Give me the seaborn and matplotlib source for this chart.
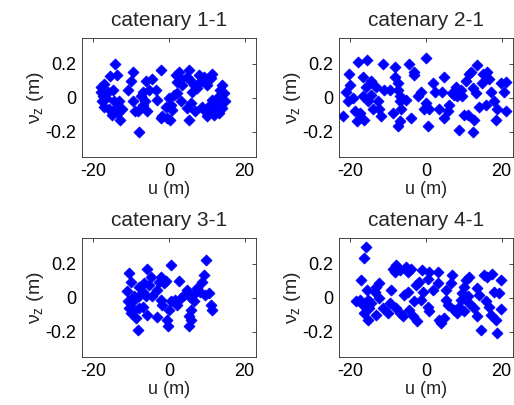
import matplotlib
matplotlib.use("Agg")
from matplotlib import pyplot as plt
import numpy as np
import pandas as pd
import seaborn as sns

sns.set_style("white")
plt.rcParams['font.family'] = ['Liberation Sans', 'DejaVu Sans']
plt.rcParams['mathtext.fontset'] = 'custom'
plt.rcParams['mathtext.rm'] = 'Liberation Sans'
plt.rcParams['mathtext.it'] = 'Liberation Sans'

titles = ['catenary 1-1', 'catenary 2-1', 'catenary 3-1', 'catenary 4-1']

# catenary 1-1
u1 = [-14.2, -15.5, -13.8, -17.1, -18, -17.5, -17.8, -16.7, -14.9, -17.1, -14.5, -13.2, -14,
      -15.2, -12.9, -12.3, -16.2, -9.6, -10.1, -10.8, -9.4, -8.9, -7.9, -6.1, -4.4, -6.8, -5.3,
      -3.5, -7.5, -6.4, -3.1, -8.3, -5.7, -7, -2.2, -1.8, -0.4, 0.3, -0.9, 0.4, 0.9, 0, 1.3,
      2.2, 2.2, 2.6, 3.1, 3.5, 5.3, 4.8, 5.7, 6.6, 6.1, 7.9, 8.3, 7.5, 4.8, 5.7, 5.3, 7, 11.4,
      11, 10, 8.8, 9.6, 10, 11.4, 12.3, 12.6, 11.4, 13.1, 14, 14.5, 14.9, 14, 10.8, 11.8, 13.6,
      -18, -15.8, -13.6, -2.2, 3.1, 1.8, 9.2, 12.6, 13.3]
v1 = [0.20, 0.127, 0.13, 0.08, 0.035, 0.006, -0.023, -0.004, 0.045, -0.053, -0.023, -0.023, -0.06,
      -0.10, -0.13, -0.07, 0.035, 0.15, 0.10, 0.045, -0.02, -0.08, -0.2, 0.10, 0.107, 0.035, 0.045,
      0.045, 0.006, -0.023, -0.014, -0.08, -0.08, -0.043, 0.16, -0.11, -0.12, -0.13, -0.053, -0.043,
      -0.072, -0.004, 0.016, 0.025, 0.094, 0.15, 0.11, 0.074, 0.16, 0.12, 0.10, 0.074, 0.035, 0.13,
      0.094, 0.055, -0.06, -0.033, -0.13, -0.08, 0.14, 0.113, 0.074, -0.053, -0.08, -0.11, -0.08,
      -0.06, -0.023, -0.014, 0.006, 0.074, 0.025, -0.023, -0.06, -0.043, -0.10, 0.045,
      0.064, -0.07, -0.09, -0.12, -0.023, 0.13, 0.12, -0.053, -0.09]

# catenary 2-1
u2 = [-21.9, -21.2, -20.4, -20, -20.6, -19.3, -18.7, -18.2, -17.9, -17.5, -16.7, -16.7, -16.3,
      -15.8, -15.6, -15.4, -14.5, -14.5, -14, -13.3, -12.7, -12.3, -11.8, -11.4, -11, -9.6, -8.8,
      -8.3, -8.1, -7.5, -7.5, -7, -6.8, -6.6, -7, -7.5, -5.3, -4.6, -3.9, -3.3, -3.1, -2.2, -1.3,
      -0.4, 0, 0, 0.4, 0.9, 1.9, 2.5, 3.5, 4.2, 4.8, 4.8, 5.7, 6.1, 6.8, 7.5, 7.9, 8.3, 8.8, 9.2,
      9.6, 10, 10.5, 11.4, 11.8, 11.2, 12.3, 12.5, 12.7, 13.2, 13.6, 14, 14.9, 15, 15.8, 16.2,
      16.7, 17.1, 17.9, 18.4, 18.9, 19.7, 20.6, 21.1, 21.1]
v2 = [-0.11, 0.035, 0.14, 0.074, -0.023, -0.004, -0.08, -0.14, 0.21, -0.09, 0.12, 0.006, -0.13,
      0.064, 0.22, -0.023, 0.10, 0.016, -0.07, 0.064, -0.023, -0.07, -0.11, 0.20, 0.045, 0.045,
      -0.09, 0.18, 0.12, 0.084, 0.045, 0.006, -0.023, -0.07, -0.14, -0.17, -0.014, 0.20, -0.12,
      0.13, 0.15, 0.006, 0.035, -0.07, 0.23, -0.03, -0.17, -0.07, 0.084, 0.035, -0.07, 0.035, 0.12,
      -0.12, -0.08, -0.043, 0.025, 0.016, 0.064, 0.006, -0.19, 0.045, 0.006, -0.10, 0.10, 0.14,
      0.15, -0.10, 0.055, -0.20, -0.13, 0.025, 0.19, -0.053, 0.084, 0.14, -0.043, 0.15, 0.11,
      0.035, -0.023, -0.13, -0.07, 0.084, 0.035, 0.094, -0.08]

# catenary 3-1
u3 = [-10.5, -11.1, -10.1, -5.7, 0.4, 9.9, 9.2, 8.8, 2.6, -2.2, -2.6, -0.9, -1.3, -7.9, -6.6,
      -5.3, -7, -6.1, -4.4, -9.2, -9.6, -10.5, -9.2, -7.9, -7, -10.1, -8.8, -5.7, -8.3, -3.1,
      -2.2, -1.8, 0.0, -0.4, -0.3, 0.4, 1.7, 2.2, 3.1, 3.9, 4.8, 5.3, 5.7, 5.3, 5.7, 5.3, 6.6,
      7, 7.5, 8.3, 9.6, 10.5, 11, 11.4, -4.8, -3.1, -10.8, -7.9]
v3 = [0.146, 0.039, 0.094, 0.17, 0.19, 0.22, 0.13, 0.094, 0.098, 0.12, 0.094, 0.10, 0.084, 0.064,
      0.084, 0.074, 0.035, 0.006, 0.006, 0.006, -0.023, -0.063, -0.072, -0.063, -0.053, -0.09,
      -0.12, -0.10, -0.19, -0.115, -0.014, -0.043, -0.072, -0.13, -0.17, -0.023, -0.014, -0.043,
      -0.004, 0.016, 0.045, 0.006, -0.072, -0.107, -0.13, -0.17, -0.023, 0.025, 0.055, 0.035,
      0.016, 0.025, -0.043, -0.072, 0.12, 0.045, -0.023, 0.006]

# catenary 4-1
u4 = [-15.8, -16.3, -17.1, -18.4, -17.5, -16.7, -15.6, -15.4, -15.1, -16.3, -15.4, -14.5, -13.6,
      -13.2, -12.3, -13.2, -12.3, -11.4, -10.1, -9.2, -8.8, -8.3, -7.9, -7, -5.3, -4.8, -3.9,
      -9.6, -7.9, -7, -6.1, -5.7, -4.8, -4.4, -3.5, -2.5, -3.1, -2.6, -1.8, -1.3, -0.9, -1,
      0.4, 0.9, 0.9, 0.4, 1.9, 3.1, 3.1, 3.5, 3.9, 4.8, 5.3, 5.4, 5.7, 6.6, 7, 7.5, 8.3, 8.8,
      9.2, 9.6, 10, 10.5, 11.4, 11, 11.4, 10, 12.7, 13.6, 14, 13.6, 14.6, 15.4, 16.2, 17.5,
      15.8, 16.7, 17.3, 17.9, 18.4, 18.9, 19.3, 19.7, 19.9]
v4 = [0.295, 0.23, 0.104, -0.023, -0.014, -0.043, 0.045, -0.014, -0.063, -0.09, -0.13, -0.033,
      0.035, 0.064, 0.084, -0.10, -0.004, -0.063, -0.09, 0.045, 0.17, 0.15, 0.19, 0.16, 0.18,
      0.15, 0.17, -0.033, -0.063, -0.09, -0.11, 0.016, 0.035, -0.072, -0.11, -0.14, -0.023,
      0.074, 0.094, -0.014, 0.035, 0.16, -0.053, 0.15, -0.08, 0.11, 0.045, 0.15, 0.088, -0.13,
      -0.15, -0.12, -0.014, 0.045, -0.043, 0.084, 0.13, -0.072, -0.09, -0.053, -0.014, 0.025,
      0.064, 0.104, 0.12, 0.006, -0.033, -0.08, -0.063, 0.055, 0.016, -0.11, -0.19, 0.13, 0.12,
      0.14, -0.023, -0.053, -0.10, 0.035, -0.13, -0.21, 0.025, 0.104, -0.067]

series = [(u1, v1), (u2, v2), (u3, v3), (u4, v4)]

fig = plt.figure(figsize=(5.14, 4.05), dpi=100)
W, H = 514, 405
boxes = [(82, 38), (339, 38), (82, 238), (339, 238)]  # left, top in px
for i, ((u, v), (l, t)) in enumerate(zip(series, boxes)):
    ax = fig.add_axes([l / W, (H - t - 119) / H, 174 / W, 119 / H])
    df = pd.DataFrame({'u': u, 'v': v})
    sns.scatterplot(data=df, x='u', y='v', ax=ax, marker='D', s=32,
                    color='#0000ff', edgecolor='#0000ff', linewidth=0.5)
    ax.set_xlim(-23, 23)
    ax.set_ylim(-0.35, 0.35)
    ax.set_xticks([-20, 0, 20])
    ax.set_yticks([-0.2, 0, 0.2])
    ax.set_yticklabels(['-0.2', '0', '0.2'])
    ax.set_xticklabels(['-20', '0', '20'])
    ax.tick_params(direction='in', length=3, width=0.5, top=True, right=True,
                   labelsize=13, pad=4, colors='black')
    for sp in ax.spines.values():
        sp.set_color('#262626')
        sp.set_linewidth(0.6)
    ax.set_title(titles[i], fontsize=15, pad=9)
    ax.set_xlabel('u (m)', fontsize=13, labelpad=1)
    ax.set_ylabel(r'$\nu_z$ (m)', fontsize=14, labelpad=0)

fig.savefig('out.png', dpi=100)
